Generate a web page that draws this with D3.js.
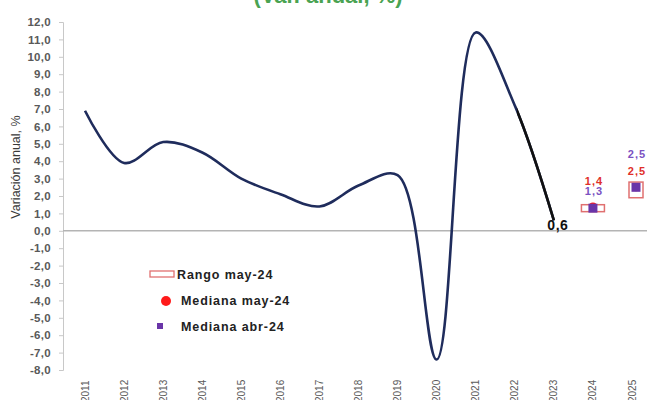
<!DOCTYPE html>
<html>
<head>
<meta charset="utf-8">
<script src="https://cdn.jsdelivr.net/npm/d3@7"></script>
<style>
  body { margin: 0; background: #fff; }
  svg { display: block; font-family: "Liberation Sans", Arial, sans-serif; }
</style>
</head>
<body>
<svg id="chart"></svg>
<script>
// data
var years = [2011, 2012, 2013, 2014, 2015, 2016, 2017, 2018, 2019, 2020, 2021, 2022, 2023, 2024, 2025];
var histYears = [2011, 2012, 2013, 2014, 2015, 2016, 2017, 2018, 2019, 2020, 2021, 2022, 2023];
var histValues = [6.9, 3.9, 5.1, 4.5, 3.0, 2.1, 1.4, 2.6, 3.2, -7.4, 11.4, 7.2, 0.6];
var forecastYears = [2024, 2025];
var rangeLow = [1.1, 1.9];
var rangeHigh = [1.5, 2.8];
var medianMay = [1.4, 2.5];
var medianApr = [1.3, 2.5];
var yTicks = [-8, -7, -6, -5, -4, -3, -2, -1, 0, 1, 2, 3, 4, 5, 6, 7, 8, 9, 10, 11, 12];
var legendLabels = ["Rango may-24", "Mediana may-24", "Mediana abr-24"];

// colours
var LineColor = "#1f2c5c", LastColor = "#111111";
var RangeColor = "#e07070", MayColor = "#ff1a1a", AprColor = "#6a35a8";
var MayText = "#e0302a", AprText = "#7b52c2";
var AxisText = "#595959";

var width = 647, height = 400;
var svg = d3.select("#chart").attr("width", width).attr("height", height);

var x = d3.scalePoint().domain(years).range([85, 632]);
var y = d3.scaleLinear().domain([-8, 12]).range([370, 22]);
var fmt = function(v) { return v.toFixed(1).replace(".", ","); };

// title (cut by the top edge)
svg.append("text")
  .attr("x", 328).attr("y", 3)
  .attr("text-anchor", "middle")
  .style("font-size", "22px").style("font-weight", "bold")
  .attr("fill", "#4aa352")
  .text("(Var. anual, %)");

// y axis
var yAxis = svg.append("g")
  .attr("transform", "translate(63,0)")
  .call(d3.axisLeft(y).tickValues(yTicks).tickFormat(fmt).tickSizeInner(4).tickSizeOuter(4).tickPadding(8));
yAxis.select(".domain").attr("stroke", "#c8c8c8");
yAxis.selectAll(".tick line").attr("stroke", "#c8c8c8");
yAxis.selectAll(".tick text")
  .attr("fill", AxisText)
  .style("font-size", "11.5px").style("font-weight", "bold")
  .style("letter-spacing", "0.3px");

svg.append("text")
  .attr("transform", "translate(20,167) rotate(-90)")
  .attr("text-anchor", "middle")
  .style("font-size", "12.5px")
  .attr("fill", "#3a3a3a")
  .text("Variación anual, %");

// zero line
svg.append("line")
  .attr("x1", 63).attr("x2", width)
  .attr("y1", y(0)).attr("y2", y(0))
  .attr("stroke", "#b4b4b4").attr("stroke-width", 1.5);

// x labels
svg.append("g").selectAll("text")
  .data(years).enter().append("text")
  .attr("transform", function(d) { return "translate(" + x(d) + ",402) rotate(-90)"; })
  .attr("dy", "0.35em")
  .attr("text-anchor", "start")
  .style("font-size", "10px")
  .attr("fill", AxisText)
  .text(function(d) { return d; });

// history line (smoothed), last stretch drawn in black
var pts = histYears.map(function(d, i) { return [x(d), y(histValues[i])]; });
var line = d3.line().curve(d3.curveCatmullRom.alpha(0.5));
svg.append("defs").append("clipPath").attr("id", "lastClip")
  .append("rect")
  .attr("x", x(2022) + 2).attr("y", 0)
  .attr("width", width).attr("height", height);
svg.append("path")
  .attr("d", line(pts))
  .attr("fill", "none").attr("stroke", LineColor)
  .attr("stroke-width", 2.6).attr("stroke-linejoin", "round");
svg.append("path")
  .attr("d", line(pts))
  .attr("clip-path", "url(#lastClip)")
  .attr("fill", "none").attr("stroke", LastColor)
  .attr("stroke-width", 2.6).attr("stroke-linejoin", "round");

var last = histValues.length - 1;
svg.append("text")
  .attr("x", x(histYears[last]) + 4).attr("y", y(histValues[last]) + 10)
  .attr("text-anchor", "middle")
  .style("font-size", "14px").style("font-weight", "bold")
  .style("letter-spacing", "0.5px")
  .attr("fill", LastColor)
  .text(fmt(histValues[last]));

// forecasts
var boxWidth = [23, 14];
var mayLabelY = [185, 175];
var aprLabelY = [195, 158];
var labelShift = [1, 5];
forecastYears.forEach(function(yr, i) {
  var cx = x(yr) + labelShift[i] - 1;
  svg.append("rect")
    .attr("x", cx - boxWidth[i] / 2).attr("y", y(rangeHigh[i]))
    .attr("width", boxWidth[i]).attr("height", y(rangeLow[i]) - y(rangeHigh[i]))
    .attr("fill", "#fff").attr("stroke", RangeColor).attr("stroke-width", 1.5);
  svg.append("circle")
    .attr("cx", cx).attr("cy", y(medianMay[i])).attr("r", 4)
    .attr("fill", MayColor);
  svg.append("rect")
    .attr("x", cx - 4.5).attr("y", y(medianApr[i]) - 4.5)
    .attr("width", 9).attr("height", 9)
    .attr("fill", AprColor);
  svg.append("text")
    .attr("x", x(yr) + labelShift[i]).attr("y", mayLabelY[i])
    .attr("text-anchor", "middle")
    .style("font-size", "11px").style("font-weight", "bold")
    .style("letter-spacing", "1px")
    .attr("fill", MayText)
    .text(fmt(medianMay[i]));
  svg.append("text")
    .attr("x", x(yr) + labelShift[i]).attr("y", aprLabelY[i])
    .attr("text-anchor", "middle")
    .style("font-size", "11px").style("font-weight", "bold")
    .style("letter-spacing", "1px")
    .attr("fill", AprText)
    .text(fmt(medianApr[i]));
});

// legend
var legend = svg.append("g");
legend.append("rect")
  .attr("x", 150).attr("y", 271).attr("width", 24).attr("height", 6)
  .attr("fill", "#fff").attr("stroke", RangeColor).attr("stroke-width", 1.3);
legend.append("circle")
  .attr("cx", 166).attr("cy", 301).attr("r", 5)
  .attr("fill", MayColor);
legend.append("rect")
  .attr("x", 157).attr("y", 323).attr("width", 6).attr("height", 6)
  .attr("fill", AprColor);
legend.selectAll("text.leg")
  .data(legendLabels).enter().append("text")
  .attr("class", "leg")
  .attr("x", function(d, i) { return i === 0 ? 177 : 181; })
  .attr("y", function(d, i) { return 279 + i * 26; })
  .style("font-size", "12.5px").style("font-weight", "bold")
  .style("letter-spacing", "0.9px")
  .attr("fill", "#222")
  .text(function(d) { return d; });
</script>
</body>
</html>
